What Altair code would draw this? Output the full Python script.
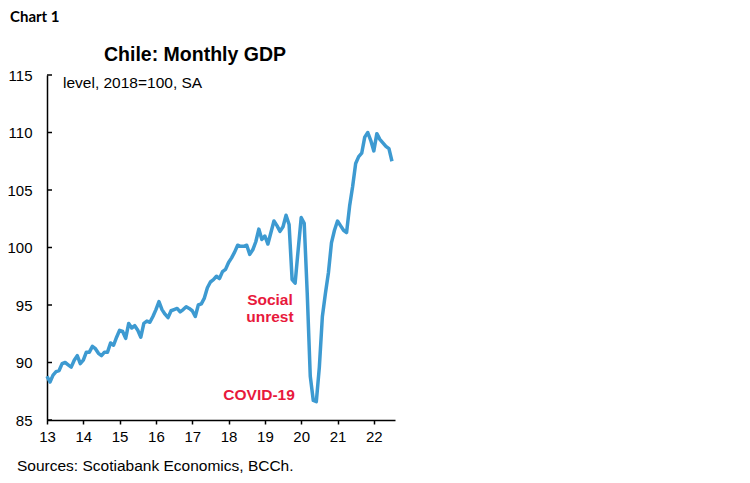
import altair as alt
import pandas as pd

# Data (Chile monthly GDP, level 2018=100, SA), Jan 2013 .. Jul 2022

START_YEAR = 13
GDP_2013 = [88.8, 88.3, 88.9, 89.2, 89.3, 89.9, 90.0, 89.8, 89.6, 90.2, 90.6, 89.9]
GDP_2014 = [90.2, 90.9, 90.9, 91.4, 91.2, 90.8, 90.6, 90.9, 90.9, 91.7, 91.5, 92.2]
GDP_2015 = [92.8, 92.7, 92.1, 93.4, 93.0, 93.2, 92.8, 92.2, 93.4, 93.6, 93.5, 94.0]
GDP_2016 = [94.6, 95.3, 94.6, 94.2, 93.9, 94.5, 94.6, 94.7, 94.4, 94.6, 94.85, 94.7]
GDP_2017 = [94.5, 94.0, 95.0, 95.1, 95.6, 96.5, 97.0, 97.2, 97.5, 97.3, 97.9, 98.1]
GDP_2018 = [98.7, 99.1, 99.6, 100.2, 100.1, 100.1, 100.2, 99.4, 99.8, 100.5, 101.6, 100.7]
GDP_2019 = [101.0, 100.3, 101.3, 102.3, 101.9, 101.4, 101.8, 102.8, 102.0, 97.2, 96.9, 99.8]
GDP_2020 = [102.6, 102.1, 96.0, 88.8, 86.7, 86.6, 89.6, 94.0, 96.0, 97.8, 100.4, 101.5]
GDP_2021 = [102.3, 101.9, 101.5, 101.3, 103.6, 105.3, 107.3, 107.9, 108.2, 109.6, 110.0, 109.3]
GDP_2022 = [108.4, 109.9, 109.4, 109.1, 108.8, 108.6, 107.5]

X_TICKS = list(range(13, 23))
Y_TICKS = [85, 90, 95, 100, 105, 110, 115]

TITLE = 'Chile: Monthly GDP'
UNITS = 'level, 2018=100, SA'
SOURCE = 'Sources: Scotiabank Economics, BCCh.'
CHART_NO = 'Chart 1'

# Styles

FONT = 'Liberation Sans'
BLUE = '#3d9ad1'
RED = '#e8193c'
WIDTH, HEIGHT = 348, 345

# Chart generation

def _series() -> pd.DataFrame:
  values = (GDP_2013 + GDP_2014 + GDP_2015 + GDP_2016 + GDP_2017
            + GDP_2018 + GDP_2019 + GDP_2020 + GDP_2021 + GDP_2022)
  return pd.DataFrame({
    'year': [START_YEAR + i / 12 for i in range(len(values))],
    'value': values
  })

x_scale = alt.Scale(domain=[13, 13 + 115 / 12], nice=False, zero=False)
y_scale = alt.Scale(domain=[85, 115], nice=False, zero=False)

x_axis = alt.Axis(
  values=X_TICKS, format='d', title=None, grid=False,
  tickSize=4, labelPadding=5, labelFlush=False, labelOverlap=False,
  labelFont=FONT, labelFontSize=15, labelColor='black',
  domainColor='black', domainWidth=1.5, tickColor='black', tickWidth=1.5
)
y_axis = alt.Axis(
  values=Y_TICKS, title=None, grid=False, ticks=False, tickSize=0,
  labelPadding=15, labelFont=FONT, labelFontSize=15, labelColor='black',
  domainColor='black', domainWidth=1.5
)

line = alt.Chart(_series()).mark_line(
  color=BLUE, strokeWidth=3.5, strokeJoin='round'
).encode(
  x=alt.X('year:Q', scale=x_scale, axis=x_axis),
  y=alt.Y('value:Q', scale=y_scale, axis=y_axis)
)

# inward y ticks
yticks = alt.Chart(pd.DataFrame({'value': Y_TICKS})).mark_rule(
  color='black', strokeWidth=1.5
).encode(
  y=alt.Y('value:Q', scale=y_scale, axis=y_axis),
  x=alt.value(0), x2=alt.value(5)
)

notes = alt.Chart(pd.DataFrame({
  'year': [19.14, 19.14, 18.84],
  'value': [95.0, 93.5, 86.7],
  'label': ['Social', 'unrest', 'COVID-19']
})).mark_text(
  font=FONT, fontSize=15.5, fontWeight='bold', color=RED,
  align='center', baseline='alphabetic'
).encode(
  x=alt.X('year:Q', scale=x_scale, axis=x_axis),
  y=alt.Y('value:Q', scale=y_scale, axis=y_axis),
  text='label:N'
)

def _static_text(text: str, x: float, y: float, align: str = 'left', **style) -> alt.Chart:
  return alt.Chart(pd.DataFrame({'t': [text]})).mark_text(
    align=align, baseline='alphabetic', color='black', **style
  ).encode(x=alt.value(x), y=alt.value(y), text='t:N')

title = _static_text(TITLE, 148, -14, align='center', font=FONT, fontSize=19.5, fontWeight='bold')
units = _static_text(UNITS, 16, 13, font=FONT, fontSize=15.5)
source = _static_text(SOURCE, -30, 396, font=FONT, fontSize=15.5)
chart_no = _static_text(CHART_NO, -37, -53, font='Lato', fontSize=15, fontWeight='bold')

chart = alt.layer(
  line, yticks, notes, title, units, source, chart_no
).properties(
  width=WIDTH, height=HEIGHT,
  autosize=alt.AutoSizeParams(type='none'),
  padding={'left': 39, 'top': 67, 'right': 300, 'bottom': 55}
).configure_view(
  strokeWidth=0
)

chart.save('out.html', embed_options={'renderer': 'svg', 'actions': False})
